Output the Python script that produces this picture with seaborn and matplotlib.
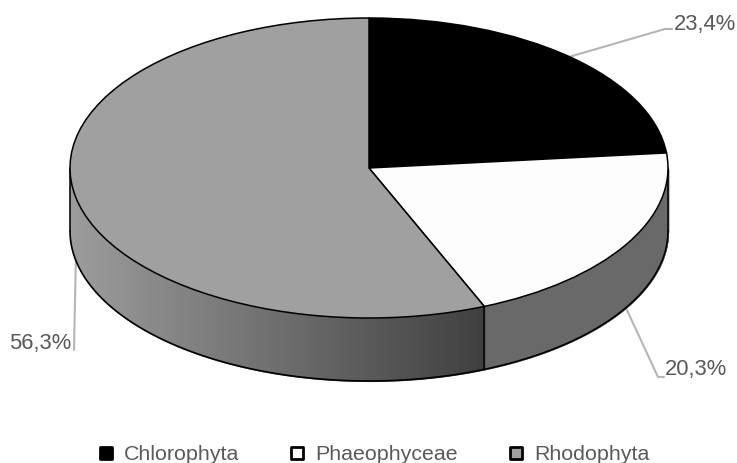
import numpy as np
import matplotlib
matplotlib.use("Agg")
import matplotlib.pyplot as plt
from matplotlib.lines import Line2D
from matplotlib.markers import MarkerStyle
import seaborn as sns

groups = ["Chlorophyta", "Phaeophyceae", "Rhodophyta"]
shares = [23.4, 20.3, 56.3]
share_labels = ["23,4%", "20,3%", "56,3%"]
top_colors = ["#000000", "#fdfdfd", "#a0a0a0"]

sns.set_theme(style="white")
plt.rcParams["font.family"] = ["Liberation Sans", "DejaVu Sans"]

W, H = 737, 463
CX, CY, RX, RY, DEPTH = 369, 168, 299, 150, 63  # pie position in pixels


def px(x, y):
    # picture pixels to data units of the squashed pie
    return (x - CX) / RX, (CY - y) / RY


fig = plt.figure(figsize=(W / 100, H / 100), dpi=100)
ax = fig.add_axes([0, 0, 1, 1])

wedges, _ = ax.pie(shares, colors=top_colors, startangle=90, counterclock=False,
                   radius=1, frame=True,
                   wedgeprops=dict(edgecolor="black", linewidth=1.1))
ax.set_aspect("auto")
ax.set_xlim(px(0, 0)[0], px(W, 0)[0])
ax.set_ylim(px(0, H)[1], px(0, 0)[1])
ax.set_xticks([])
ax.set_yticks([])
for s in ax.spines.values():
    s.set_visible(False)

depth = DEPTH / RY
ends = 90 - 3.6 * np.cumsum(shares)
starts = ends + 3.6 * np.array(shares)

# side wall, only the part facing the viewer
wall = sns.blend_palette(["#9c9c9c", "#3f3f3f"], 256)
for i in range(3):
    a0, a1 = min(starts[i], 0), max(ends[i], -180)
    if a0 <= a1:
        continue
    edges = np.radians(np.linspace(a0, a1, 401))
    for k in range(400):
        t = edges[k:k + 2]
        if i == 2:
            pos = (np.cos(t).mean() + 1) / (np.cos(edges[0]) + 1)
            c = wall[min(int(pos * 255), 255)]
        else:
            c = "#696969"
        ax.fill_between(np.cos(t), np.sin(t), np.sin(t) - depth, color=c,
                        linewidth=0.8, antialiased=False, zorder=0.5)

t = np.radians(np.linspace(-180, 0, 300))
ax.plot(np.cos(t), np.sin(t) - depth, color="black", lw=1.2, zorder=0.7)
for a in [0, -180, ends[1]]:
    r = np.radians(a)
    ax.plot([np.cos(r)] * 2, [np.sin(r), np.sin(r) - depth], color="black", lw=1.1, zorder=0.7)

# leader lines start at the middle of each slice
elbows = [[(665, 29), (672, 29)], [(658, 377), (664, 377)], [(74, 350), (74, 350)]]
text_pos = [(674, 24), (665, 370), (71, 344)]
aligns = ["left", "left", "right"]
mids = np.radians((starts + ends) / 2)
for i in range(3):
    ax0 = np.cos(mids[i])
    ay0 = np.sin(mids[i]) - (depth if np.sin(mids[i]) < 0 else 0)
    pts = [(ax0, ay0)] + [px(*p) for p in elbows[i]]
    ax.plot([p[0] for p in pts], [p[1] for p in pts], color="#b5b5b5", lw=1.5, zorder=0.4)
    tx, ty = px(*text_pos[i])
    ax.text(tx, ty, share_labels[i], color="#595959", fontsize=15.8,
            ha=aligns[i], va="center")

handles = [Line2D([], [], linestyle="none",
                  marker=MarkerStyle("s", joinstyle="round"), markersize=8,
                  markerfacecolor=c, markeredgecolor="black", markeredgewidth=2)
           for c in top_colors]
ax.legend(handles, groups, ncol=3, loc="lower center", bbox_to_anchor=(0.504, -0.044),
          frameon=False, fontsize=15.4, labelcolor="#595959", columnspacing=2.12,
          handletextpad=0.25, handlelength=1.2)

fig.savefig("out.png", dpi=100)
